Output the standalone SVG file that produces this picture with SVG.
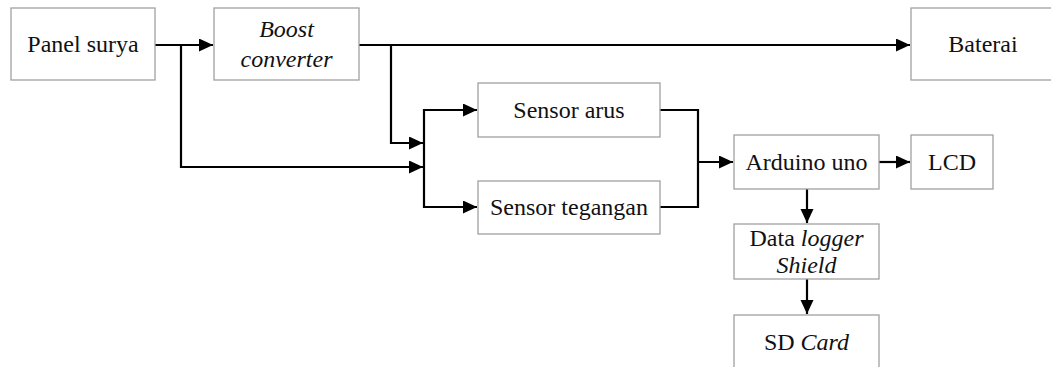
<svg xmlns="http://www.w3.org/2000/svg" width="1051" height="367" viewBox="0 0 1051 367">
  <style>
    .box { fill: #ffffff; stroke: #a0a0a0; stroke-width: 1.3; }
    .wire { fill: none; stroke: #000000; stroke-width: 2.2; }
    .lbl { font-family: "Liberation Serif", "Times New Roman", serif; font-size: 24px; fill: #111111; text-anchor: middle; }
    .it { font-style: italic; }
  </style>
  <defs>
    <marker id="arrow" markerUnits="userSpaceOnUse" markerWidth="15" markerHeight="14" refX="14" refY="6.5" orient="auto">
      <path d="M0,0 L14,6.5 L0,13 Z" fill="#000000"/>
    </marker>
  </defs>
  <rect width="1051" height="367" fill="#ffffff"/>

  <!-- wiring between blocks -->
  <g id="connectors">
    <path class="wire" d="M155,45 H213" marker-end="url(#arrow)"/>
    <path class="wire" d="M181,45 V167 H423" marker-end="url(#arrow)"/>
    <path class="wire" d="M359,45 H910" marker-end="url(#arrow)"/>
    <path class="wire" d="M391,45 V143 H423" marker-end="url(#arrow)"/>
    <path class="wire" d="M424,160 V110 H477" marker-end="url(#arrow)"/>
    <path class="wire" d="M424,160 V207 H477" marker-end="url(#arrow)"/>
    <path class="wire" d="M660,110 H698 V207 H660"/>
    <path class="wire" d="M698,162 H733" marker-end="url(#arrow)"/>
    <path class="wire" d="M879,162 H910" marker-end="url(#arrow)"/>
    <path class="wire" d="M807,189 V223" marker-end="url(#arrow)"/>
    <path class="wire" d="M807,279 V314" marker-end="url(#arrow)"/>
  </g>

  <g id="panel-surya">
    <rect class="box" x="11" y="8" width="144" height="72"/>
    <text class="lbl" x="83" y="52">Panel surya</text>
  </g>
  <g id="boost-converter">
    <rect class="box" x="214" y="8" width="145" height="72"/>
    <text class="lbl it" x="286.5" y="37">Boost</text>
    <text class="lbl it" x="286.5" y="67">converter</text>
  </g>
  <g id="baterai">
    <rect class="box" x="911" y="8" width="150" height="72"/>
    <text class="lbl" x="983" y="52">Baterai</text>
  </g>
  <g id="sensor-arus">
    <rect class="box" x="478" y="83" width="182" height="54"/>
    <text class="lbl" x="569" y="118">Sensor arus</text>
  </g>
  <g id="sensor-tegangan">
    <rect class="box" x="478" y="181" width="182" height="53"/>
    <text class="lbl" x="569" y="215">Sensor tegangan</text>
  </g>
  <g id="arduino-uno">
    <rect class="box" x="734" y="135" width="145" height="54"/>
    <text class="lbl" x="806.5" y="170">Arduino uno</text>
  </g>
  <g id="lcd">
    <rect class="box" x="911" y="135" width="82" height="54"/>
    <text class="lbl" x="952" y="170">LCD</text>
  </g>
  <g id="data-logger-shield">
    <rect class="box" x="734" y="224" width="145" height="55"/>
    <text class="lbl" x="806.5" y="246">Data <tspan class="it">logger</tspan></text>
    <text class="lbl it" x="806.5" y="273">Shield</text>
  </g>
  <g id="sd-card">
    <rect class="box" x="734" y="315" width="145" height="60"/>
    <text class="lbl" x="806.5" y="350">SD <tspan class="it">Card</tspan></text>
  </g>
</svg>
